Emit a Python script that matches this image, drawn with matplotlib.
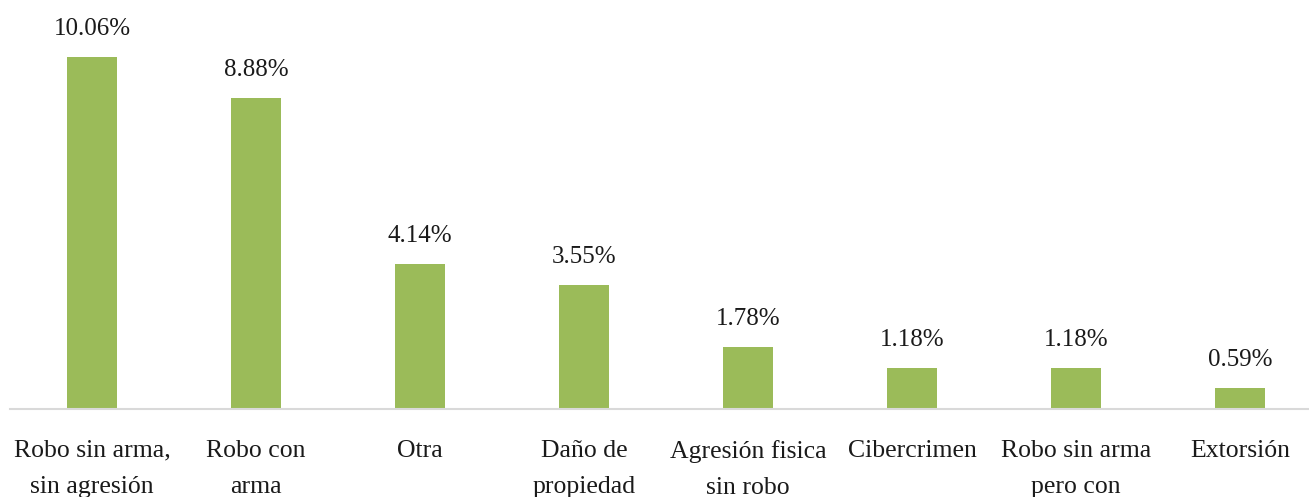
import matplotlib
matplotlib.use("Agg")
import matplotlib.pyplot as plt

categories = ["Robo sin arma,\nsin agresión", "Robo con\narma", "Otra", "Daño de\npropiedad",
              "Agresión fisica\nsin robo", "Cibercrimen", "Robo sin arma\npero con", "Extorsión"]
values = [10.06, 8.88, 4.14, 3.55, 1.78, 1.18, 1.18, 0.59]
labels = ["10.06%", "8.88%", "4.14%", "3.55%", "1.78%", "1.18%", "1.18%", "0.59%"]

plt.rcParams['font.family'] = ['Liberation Serif', 'DejaVu Serif']

fig = plt.figure(figsize=(13.09, 4.97), dpi=100)
ax = fig.add_axes([10/1309, 88/497, 1299/1309, 409/497])
x = list(range(len(categories)))
ax.bar(x, values, width=0.305, color="#9BBB59", zorder=2)
for xi, v, lab in zip(x, values, labels):
    ax.text(xi, v + 0.8, lab, ha="center", va="center", fontsize=18, color="#1a1a1a")
ax.set_xlim(-0.5, 7.42)
ax.set_ylim(0, 11.69)
ax.set_yticks([])
ax.set_xticks(x)
ax.set_xticklabels(categories, fontsize=18.5, linespacing=1.85, color="#1a1a1a")
ax.tick_params(axis="x", length=0, pad=22)
for s in ["top", "right", "left"]:
    ax.spines[s].set_visible(False)
ax.spines["bottom"].set_color("#D9D9D9")
ax.spines["bottom"].set_linewidth(1.5)
fig.savefig("out.png", dpi=100)
